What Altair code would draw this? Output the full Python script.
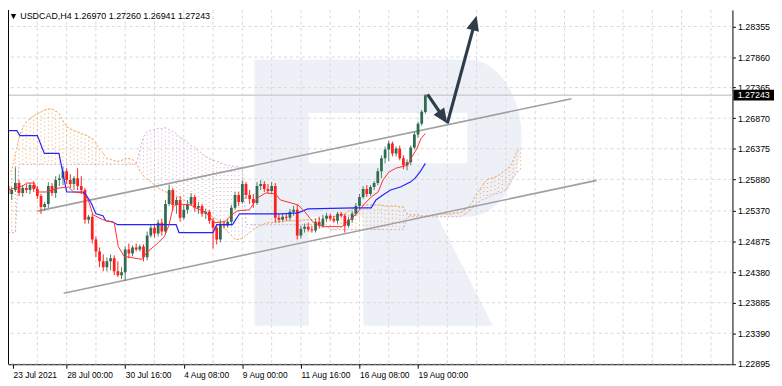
import math
import altair as alt
import pandas as pd

# ---------------- data ----------------
TITLE = "\u25bc USDCAD,H4  1.26970 1.27260 1.26941 1.27243"
LAST_PRICE = 1.27243

OPEN = [1.25772, 1.25644, 1.25708, 1.25820, 1.25660, 1.25740, 1.25708, 1.25788, 1.25724, 1.25612,
        1.25435, 1.25483, 1.25772, 1.25660, 1.25868, 1.25900, 1.26012, 1.25868, 1.25804, 1.25900,
        1.25772, 1.25708, 1.25227, 1.25275, 1.24907, 1.24714, 1.24554, 1.24458, 1.24554, 1.24602,
        1.24394, 1.24330, 1.24378, 1.24746, 1.24682, 1.24779, 1.24746, 1.24795, 1.24618, 1.24971,
        1.25099, 1.25003, 1.25179, 1.25035, 1.25483, 1.25708, 1.25467, 1.25547, 1.25259, 1.25387,
        1.25483, 1.25596, 1.25419, 1.25451, 1.25323, 1.25355, 1.25211, 1.25099, 1.24907, 1.25163,
        1.25131, 1.25195, 1.25419, 1.25628, 1.25515, 1.25804, 1.25628, 1.25564, 1.25499, 1.25772,
        1.25804, 1.25724, 1.25692, 1.25772, 1.25259, 1.25227, 1.25275, 1.25259, 1.25355, 1.25387,
        1.24971, 1.25083, 1.25115, 1.25067, 1.25051, 1.25195, 1.25131, 1.25243, 1.25291, 1.25243,
        1.25211, 1.25323, 1.25291, 1.25131, 1.25227, 1.25323, 1.25451, 1.25596, 1.25724, 1.25644,
        1.25756, 1.25820, 1.26012, 1.26220, 1.26364, 1.26460, 1.26300, 1.26380, 1.26220, 1.26108,
        1.26156, 1.26396, 1.26605, 1.26781, 1.26970]
HIGH = [1.25836, 1.25756, 1.26076, 1.25868, 1.25788, 1.25804, 1.25820, 1.25852, 1.25772, 1.25644,
        1.25515, 1.25836, 1.25820, 1.25932, 1.25964, 1.26092, 1.26060, 1.25964, 1.25932, 1.26060,
        1.25932, 1.25740, 1.25307, 1.25323, 1.24955, 1.24779, 1.24666, 1.24618, 1.24666, 1.24650,
        1.24554, 1.24458, 1.24795, 1.24843, 1.24811, 1.24843, 1.24827, 1.24827, 1.25035, 1.25147,
        1.25163, 1.25227, 1.25243, 1.25547, 1.25788, 1.25740, 1.25596, 1.25612, 1.25467, 1.25547,
        1.25660, 1.25628, 1.25515, 1.25483, 1.25403, 1.25387, 1.25259, 1.25147, 1.25227, 1.25211,
        1.25227, 1.25467, 1.25676, 1.25676, 1.25868, 1.25836, 1.25708, 1.25644, 1.25836, 1.25868,
        1.25852, 1.25804, 1.25836, 1.25820, 1.25323, 1.25339, 1.25323, 1.25403, 1.25451, 1.25467,
        1.25131, 1.25163, 1.25179, 1.25131, 1.25243, 1.25275, 1.25307, 1.25339, 1.25323, 1.25291,
        1.25355, 1.25355, 1.25323, 1.25275, 1.25371, 1.25499, 1.25644, 1.25772, 1.25788, 1.25788,
        1.25852, 1.26060, 1.26268, 1.26412, 1.26508, 1.26492, 1.26412, 1.26428, 1.26268, 1.26204,
        1.26428, 1.26653, 1.26813, 1.27005, 1.27260]
LOW = [1.25596, 1.25547, 1.25676, 1.25612, 1.25596, 1.25660, 1.25644, 1.25676, 1.25564, 1.25323,
       1.25371, 1.25419, 1.25612, 1.25580, 1.25772, 1.25788, 1.25804, 1.25740, 1.25708, 1.25708,
       1.25644, 1.25163, 1.25163, 1.24843, 1.24618, 1.24458, 1.24394, 1.24394, 1.24410, 1.24330,
       1.24298, 1.24266, 1.24234, 1.24602, 1.24634, 1.24714, 1.24714, 1.24554, 1.24570, 1.24939,
       1.24939, 1.24955, 1.24971, 1.25003, 1.25451, 1.25371, 1.25323, 1.25195, 1.25227, 1.25323,
       1.25451, 1.25355, 1.25323, 1.25275, 1.25243, 1.25163, 1.24762, 1.24827, 1.24859, 1.25083,
       1.25099, 1.25131, 1.25387, 1.25451, 1.25483, 1.25564, 1.25483, 1.25419, 1.25467, 1.25708,
       1.25676, 1.25660, 1.25644, 1.25179, 1.25179, 1.25195, 1.25211, 1.25211, 1.25291, 1.24907,
       1.24923, 1.25019, 1.25035, 1.25019, 1.25019, 1.25083, 1.25099, 1.25195, 1.25211, 1.25179,
       1.25163, 1.25259, 1.25019, 1.25099, 1.25179, 1.25291, 1.25403, 1.25564, 1.25596, 1.25612,
       1.25708, 1.25788, 1.25900, 1.26140, 1.26172, 1.26252, 1.26252, 1.26188, 1.26044, 1.26028,
       1.26108, 1.26364, 1.26557, 1.26749, 1.26941]
CLOSE = [1.25644, 1.25708, 1.25820, 1.25660, 1.25740, 1.25708, 1.25788, 1.25724, 1.25612, 1.25435,
         1.25483, 1.25772, 1.25660, 1.25868, 1.25900, 1.26012, 1.25868, 1.25804, 1.25900, 1.25772,
         1.25708, 1.25227, 1.25275, 1.24907, 1.24714, 1.24554, 1.24458, 1.24554, 1.24602, 1.24394,
         1.24330, 1.24378, 1.24746, 1.24682, 1.24779, 1.24746, 1.24795, 1.24618, 1.24971, 1.25099,
         1.25003, 1.25179, 1.25035, 1.25483, 1.25708, 1.25467, 1.25547, 1.25259, 1.25387, 1.25483,
         1.25596, 1.25419, 1.25451, 1.25323, 1.25355, 1.25211, 1.25099, 1.24907, 1.25163, 1.25131,
         1.25195, 1.25419, 1.25628, 1.25515, 1.25804, 1.25628, 1.25564, 1.25499, 1.25772, 1.25804,
         1.25724, 1.25692, 1.25772, 1.25259, 1.25227, 1.25275, 1.25259, 1.25355, 1.25387, 1.24971,
         1.25083, 1.25115, 1.25067, 1.25051, 1.25195, 1.25131, 1.25243, 1.25291, 1.25243, 1.25211,
         1.25323, 1.25291, 1.25131, 1.25227, 1.25323, 1.25451, 1.25596, 1.25724, 1.25644, 1.25756,
         1.25820, 1.26012, 1.26220, 1.26364, 1.26460, 1.26300, 1.26380, 1.26220, 1.26108, 1.26156,
         1.26396, 1.26605, 1.26781, 1.26973, 1.27243]

TENKAN_BAR = [0, 1.9, 4, 5, 7.2, 8, 10.4, 12, 13.9, 16.5, 17.9, 20.5, 21.9, 23.2, 25.9, 29, 30.1,
              31.7, 36.5, 37.9, 40.5, 42.7, 44, 45.1, 46.1, 49.9, 51.2, 53.9, 55.2, 56.5, 59.2,
              61.1, 62.7, 65.9, 67.2, 68.5, 70.4, 73.1, 74.4, 79.2, 81.1, 83.2, 85.9, 91.2, 93.1,
              95.2, 97.1, 99.2, 101.1, 102.4, 104, 105.9, 109.1, 110.4, 111.7, 112.8, 114]
TENKAN = [1.25708, 1.25740, 1.25772, 1.25820, 1.25820, 1.25676, 1.25676, 1.25708, 1.25740, 1.25756,
          1.25676, 1.25660, 1.25547, 1.25307, 1.25227, 1.25179, 1.24795, 1.24634, 1.24586, 1.24698,
          1.24827, 1.24955, 1.25147, 1.25435, 1.25483, 1.25467, 1.25419, 1.25355, 1.25259, 1.25179,
          1.25195, 1.25307, 1.25371, 1.25387, 1.25499, 1.25596, 1.25660, 1.25644, 1.25547, 1.25467,
          1.25355, 1.25195, 1.25115, 1.25115, 1.25211, 1.25323, 1.25467, 1.25596, 1.25676, 1.25868,
          1.25996, 1.26060, 1.26108, 1.26252, 1.26380, 1.26541, 1.26621]

KIJUN_BAR = [0, 2.4, 3.2, 8, 9.9, 13.9, 16, 20.5, 21.3, 22.7, 24, 25.9, 26.7, 28.5, 29.9, 45.9,
             46.7, 56, 57, 61.3, 62.7, 63.2, 74.7, 79.2, 81.9, 94.7, 99.2, 100.5, 102.4, 104.5,
             107.2, 109.9, 111.2, 112.5, 114]
KIJUN = [1.26669, 1.26669, 1.26589, 1.26589, 1.26300, 1.26300, 1.25676, 1.25676, 1.25628, 1.25499,
         1.25323, 1.25291, 1.25211, 1.25195, 1.25147, 1.25147, 1.25019, 1.25019, 1.25147, 1.25147,
         1.25275, 1.25323, 1.25323, 1.25339, 1.25403, 1.25419, 1.25419, 1.25547, 1.25628, 1.25708,
         1.25756, 1.25836, 1.25900, 1.25996, 1.26140]

SPAN_A = [1.25948, 1.26028, 1.26284, 1.26557, 1.26717, 1.26813, 1.26861, 1.26909, 1.26941, 1.26973,
          1.27005, 1.27021, 1.27021, 1.26989, 1.26941, 1.26829, 1.26733, 1.26701, 1.26669, 1.26653,
          1.26621, 1.26605, 1.26573, 1.26541, 1.26460, 1.26364, 1.26300, 1.26220, 1.26204, 1.26188,
          1.26172, 1.26188, 1.26220, 1.26220, 1.26204, 1.26140, 1.26012, 1.25932, 1.25884, 1.25836,
          1.25788, 1.25740, 1.25708, 1.25676, 1.25660, 1.25628, 1.25612, 1.25580, 1.25547, 1.25515,
          1.25483, 1.25451, 1.25403, 1.25371, 1.25339, 1.25307, 1.25275, 1.25227, 1.25163, 1.25099,
          1.25035, 1.24971, 1.24907, 1.24907, 1.24923, 1.24971, 1.25019, 1.25067, 1.25099, 1.25131,
          1.25163, 1.25179, 1.25179, 1.25195, 1.25195, 1.25195, 1.25211, 1.25211, 1.25211, 1.25211,
          1.25211, 1.25227, 1.25227, 1.25227, 1.25243, 1.25243, 1.25259, 1.25259, 1.25275, 1.25275,
          1.25291, 1.25307, 1.25323, 1.25371, 1.25403, 1.25435, 1.25467, 1.25467, 1.25467, 1.25467,
          1.25467, 1.25467, 1.25467, 1.25451, 1.25451, 1.25451, 1.25451, 1.25435, 1.25435, 1.25323,
          1.25307, 1.25307, 1.25307, 1.25291, 1.25291, 1.25291, 1.25307, 1.25307, 1.25323, 1.25323,
          1.25323, 1.25323, 1.25339, 1.25339, 1.25355, 1.25403, 1.25451, 1.25531, 1.25644, 1.25724,
          1.25820, 1.25884, 1.25900, 1.25916, 1.25948, 1.25996, 1.26044, 1.26076, 1.26188, 1.26332,
          1.26380]
SPAN_B = ([1.25019] * 3 + [1.26124] * 33 +
          [1.26348, 1.26573, 1.26653, 1.26669, 1.26685, 1.26701, 1.26701, 1.26717, 1.26685, 1.26653,
           1.26621, 1.26557, 1.26525, 1.26477, 1.26428, 1.26396, 1.26348, 1.26300, 1.26252, 1.26220,
           1.26188, 1.26172, 1.26156, 1.26124, 1.26108, 1.26092, 1.26092, 1.26076, 1.26060] +
          [1.25147] * 23 + [1.25067] * 21 + [1.25275] * 15 +
          [1.25291, 1.25323, 1.25371, 1.25419, 1.25483, 1.25531, 1.25564, 1.25580, 1.25612, 1.25644,
           1.25660, 1.25676, 1.25708, 1.25804, 1.25900, 1.25996, 1.26028])

CH_UPPER_BAR = [8.0, 153.9]
CH_UPPER = [1.25366, 1.27186]
CH_LOWER_BAR = [15.2, 160.8]
CH_LOWER = [1.24037, 1.25864]

ARROW_BAR = [114.6, 120.0, 128.0]
ARROW_PRICE = [1.27257, 1.26786, 1.28527]

Y_TICKS = [1.28355, 1.27860, 1.27365, 1.26870, 1.26375, 1.25880, 1.25370, 1.24875,
           1.24380, 1.23885, 1.23390, 1.22895]
X_TICK_BARS = [0, 16, 32, 48, 64, 80, 96, 112]
X_TICK_LABELS = ["23 Jul 2021", "28 Jul 00:00", "30 Jul 16:00", "4 Aug 08:00",
                 "9 Aug 00:00", "11 Aug 16:00", "16 Aug 08:00", "19 Aug 00:00"]
GRID_BARS = list(range(0, 197, 8))

# ---------------- layout / style ----------------
W, H = 732, 358
X_DOMAIN = [1.3333, 196.5333]
Y_DOMAIN = [1.22888, 1.28622]
XS = alt.Scale(domain=X_DOMAIN, nice=False, zero=False)
YS = alt.Scale(domain=Y_DOMAIN, nice=False, zero=False)
FONT = "Liberation Sans"
BULL, BULL_WICK = "#2f6d52", "#4f7d66"
BEAR = "#ff1f1f"
ORANGE, THISTLE = "#f2a45e", "#cdb0cd"
ARROW_COLOR = "#2f3d4a"
HEAD = "M0,0L-6.5,15L6.5,15Z"
R_PATH = ("M-133,-134L83,-134C113,-134 137,-97 137,-55C137,-12 113,25 83,25L52,25L108,135"
          "L-23,135L-23,25L-78,25L-78,135L-133,135Z"
          "M-78,-80L-78,-29L82,-29L82,-80Z")

label_expr = "'" + X_TICK_LABELS[-1] + "'"
for b, lab in reversed(list(zip(X_TICK_BARS, X_TICK_LABELS))[:-1]):
    label_expr = f"datum.value < {b + 8} ? '{lab}' : " + label_expr
x_tick_values = [max(b, X_DOMAIN[0] + 0.02) for b in X_TICK_BARS]

AX_X = alt.Axis(
    values=x_tick_values, labelExpr=label_expr, orient="bottom", labelAlign="left",
    labelBaseline="top", labelPadding=2, tickSize=4, tickColor="black",
    domainColor="black", labelColor="black", labelFont=FONT, labelFontSize=8.5,
    grid=False, title=None, labelOverlap=False, labelFlush=False)
AX_Y = alt.Axis(
    values=Y_TICKS, format=".5f", orient="right", tickSize=3, labelPadding=2,
    tickColor="black", domainColor="black", labelColor="black", labelFont=FONT,
    labelFontSize=9, grid=False, title=None, labelOverlap=False, labelFlush=False,
    labelAlign="left", labelBaseline="middle")


def X(field):
    return alt.X(field, type="quantitative", scale=XS, axis=AX_X)


def Y(field):
    return alt.Y(field, type="quantitative", scale=YS, axis=AX_Y)


candles = pd.DataFrame({"bar": list(range(len(OPEN))), "open": OPEN, "high": HIGH,
                        "low": LOW, "close": CLOSE})
cloud = pd.DataFrame({"bar": list(range(len(SPAN_A))), "a": SPAN_A, "b": SPAN_B})
tenkan = pd.DataFrame({"bar": TENKAN_BAR, "v": TENKAN})
kijun = pd.DataFrame({"bar": KIJUN_BAR, "v": KIJUN})
channel = pd.DataFrame({"bar": CH_UPPER_BAR + CH_LOWER_BAR, "v": CH_UPPER + CH_LOWER,
                        "line": ["upper"] * 2 + ["lower"] * 2})

# arrows
sx = W / (X_DOMAIN[1] - X_DOMAIN[0])
sy = H / (Y_DOMAIN[1] - Y_DOMAIN[0])
seg_rows, head_rows = [], []
for k in range(len(ARROW_BAR) - 1):
    b0, v0 = ARROW_BAR[k], ARROW_PRICE[k]
    b1, v1 = ARROW_BAR[k + 1], ARROW_PRICE[k + 1]
    dxp, dyp = (b1 - b0) * sx, -(v1 - v0) * sy
    ln = math.hypot(dxp, dyp)
    ux, uy = dxp / ln, dyp / ln
    ang = math.degrees(math.atan2(ux, -uy)) % 360
    seg_rows.append({"seg": k, "bar": b0, "v": v0})
    seg_rows.append({"seg": k, "bar": b1 - ux * 11 / sx, "v": v1 + uy * 11 / sy})
    head_rows.append({"bar": b1, "v": v1, "angle": ang})
segs = pd.DataFrame(seg_rows)
heads = pd.DataFrame(head_rows)

one = pd.DataFrame({"k": [0]})

watermark = alt.Chart(one).mark_point(
    shape=R_PATH, size=4, filled=True, color="#e3e9f2", opacity=0.65, strokeWidth=0
).encode(x=alt.value(382), y=alt.value(184))

hgrid = alt.Chart(pd.DataFrame({"v": Y_TICKS})).mark_rule(
    color="#d9d9d9", strokeDash=[3, 3], strokeWidth=1
).encode(y=Y("v:Q"))

vgrid = alt.Chart(pd.DataFrame({"bar": GRID_BARS})).mark_rule(
    color="#d9d9d9", strokeDash=[3, 3], strokeWidth=1, clip=True
).encode(x=X("bar:Q"))

price_line = alt.Chart(pd.DataFrame({"v": [LAST_PRICE]})).mark_rule(
    color="#d0d0d0", strokeWidth=1.5).encode(y=Y("v:Q"))

hatch = alt.Chart(cloud).mark_rule(strokeDash=[1, 3], strokeWidth=1, clip=True).encode(
    x=X("bar:Q"), y=Y("a:Q"), y2="b:Q",
    color=alt.condition("datum.a >= datum.b", alt.value(ORANGE), alt.value(THISTLE)))
span_a = alt.Chart(cloud).mark_line(color=ORANGE, strokeDash=[2, 2], strokeWidth=1,
                                    clip=True).encode(x=X("bar:Q"), y=Y("a:Q"))
span_b = alt.Chart(cloud).mark_line(color=THISTLE, strokeDash=[2, 2], strokeWidth=1,
                                    clip=True).encode(x=X("bar:Q"), y=Y("b:Q"))

chan = alt.Chart(channel).mark_line(color="#a0a0a0", strokeWidth=1.6, clip=True).encode(
    x=X("bar:Q"), y=Y("v:Q"), detail="line:N")

cond_wick = alt.condition("datum.close >= datum.open", alt.value(BULL_WICK), alt.value(BEAR))
cond_body = alt.condition("datum.close >= datum.open", alt.value(BULL), alt.value(BEAR))
wicks = alt.Chart(candles).mark_rule(strokeWidth=1, clip=True).encode(
    x=X("bar:Q"), y=Y("low:Q"), y2="high:Q", color=cond_wick)
bodies = alt.Chart(candles).mark_bar(size=2.8, clip=True).encode(
    x=X("bar:Q"), y=Y("open:Q"), y2="close:Q", color=cond_body)

kij = alt.Chart(kijun).mark_line(color="#2424ff", strokeWidth=1.2, clip=True).encode(
    x=X("bar:Q"), y=Y("v:Q"))
ten = alt.Chart(tenkan).mark_line(color="#ff3030", strokeWidth=1, clip=True).encode(
    x=X("bar:Q"), y=Y("v:Q"))

arrow_lines = alt.Chart(segs).mark_line(color=ARROW_COLOR, strokeWidth=3.2).encode(
    x=X("bar:Q"), y=Y("v:Q"), detail="seg:N")
arrow_heads = alt.Chart(heads).mark_point(
    shape=HEAD, size=4, filled=True, color=ARROW_COLOR, opacity=1, strokeWidth=0
).encode(x=X("bar:Q"), y=Y("v:Q"), angle=alt.Angle("angle:Q", scale=None))

left_frame = alt.Chart(one).mark_rule(color="black", strokeWidth=1).encode(
    x=alt.value(0.5), y=alt.value(0), y2=alt.value(H))

title = alt.Chart(pd.DataFrame({"t": [TITLE]})).mark_text(
    align="left", baseline="middle", font=FONT, fontSize=9, color="black"
).encode(x=alt.value(1), y=alt.value(6), text="t:N")

box = alt.Chart(pd.DataFrame({"v": [LAST_PRICE]})).mark_rect(
    color="black", yOffset=-5.5, y2Offset=5.5
).encode(x=alt.value(733), x2=alt.value(774), y=Y("v:Q"), y2="v:Q")
box_text = alt.Chart(pd.DataFrame({"v": [LAST_PRICE]})).mark_text(
    color="white", font=FONT, fontSize=9, align="center", baseline="middle"
).encode(x=alt.value(753.5), y=Y("v:Q"), text=alt.Text("v:Q", format=".5f"))

chart = alt.layer(
    watermark, hgrid, vgrid, price_line, hatch, span_a, span_b, chan,
    wicks, bodies, kij, ten, arrow_lines, arrow_heads, left_frame, title, box, box_text
).properties(
    width=W, height=H,
    autosize=alt.AutoSizeParams(type="none"),
    padding={"left": 0, "top": 0, "right": 42, "bottom": 20},
).configure_view(stroke="transparent")

chart.save("out.html", embed_options={"renderer": "svg", "actions": False})
